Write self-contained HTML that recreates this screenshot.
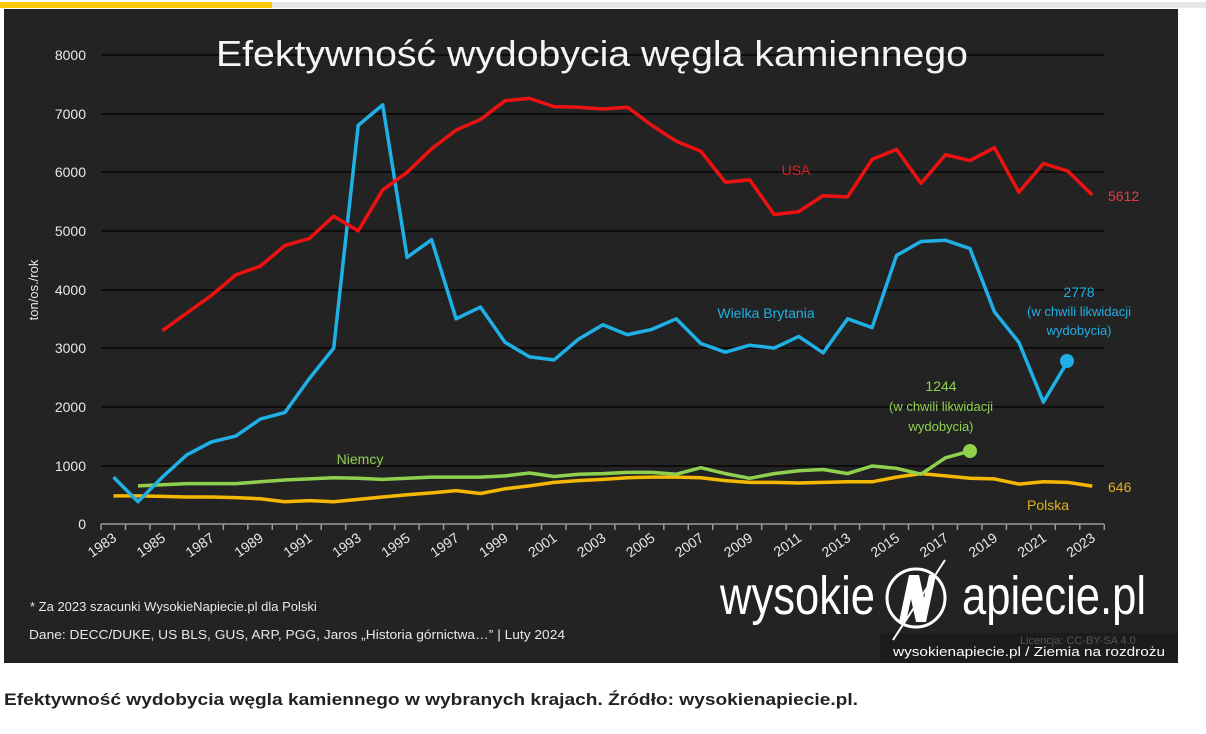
<!DOCTYPE html>
<html><head><meta charset="utf-8"><style>
html,body{margin:0;padding:0;background:#fff;width:1206px;height:734px;overflow:hidden}
svg{display:block}
</style></head><body>
<svg width="1206" height="734" xmlns="http://www.w3.org/2000/svg" font-family="Liberation Sans, DejaVu Sans, sans-serif">
<rect x="0" y="0" width="1206" height="734" fill="#fff"/>
<rect x="0" y="2" width="1206" height="6" fill="#e6e6e6"/>
<rect x="0" y="2" width="272" height="6" fill="#f9c800"/>
<rect x="4" y="9" width="1174" height="654" fill="#232323"/>
<rect x="880" y="633" width="298" height="30" fill="#1c1c1c"/>
<!-- gridlines -->
<g stroke="#0d0d0d" stroke-width="2">
<line x1="101" x2="1104" y1="55" y2="55"/><line x1="101" x2="1104" y1="114" y2="114"/>
<line x1="101" x2="1104" y1="172" y2="172"/><line x1="101" x2="1104" y1="231" y2="231"/>
<line x1="101" x2="1104" y1="290" y2="290"/><line x1="101" x2="1104" y1="348" y2="348"/>
<line x1="101" x2="1104" y1="407" y2="407"/><line x1="101" x2="1104" y1="466" y2="466"/>
</g>
<line x1="101" x2="1104" y1="524" y2="524" stroke="#999" stroke-width="1.5"/>
<g id="ticks" stroke="#999" stroke-width="1.5"></g>
<g fill="#e8e8e8" font-size="14" text-anchor="end">
<text x="86" y="60">8000</text><text x="86" y="119">7000</text><text x="86" y="177">6000</text>
<text x="86" y="236">5000</text><text x="86" y="295">4000</text><text x="86" y="353">3000</text>
<text x="86" y="412">2000</text><text x="86" y="471">1000</text><text x="86" y="529">0</text>
</g>
<text transform="translate(38,290) rotate(-90)" fill="#e8e8e8" font-size="13" text-anchor="middle">ton/os./rok</text>
<g id="xl" fill="#e8e8e8" font-size="14" text-anchor="end"></g>
<text x="592" y="66" fill="#f4f4f4" font-size="36" text-anchor="middle" textLength="752" lengthAdjust="spacingAndGlyphs">Efektywność wydobycia węgla kamiennego</text>
<g id="lines" fill="none" stroke-width="3.5" stroke-linejoin="round"></g>
<circle cx="1067" cy="361" r="7" fill="#1fb0e6"/>
<circle cx="970" cy="451" r="7" fill="#8fd14f"/>
<g font-size="14">
<text x="796" y="175" fill="#e02020" text-anchor="middle">USA</text>
<text x="1108" y="201" fill="#e04040">5612</text>
<text x="766" y="318" fill="#1fb0e6" text-anchor="middle">Wielka Brytania</text>
<text x="1079" y="297" fill="#1fb0e6" text-anchor="middle">2778</text>
<text x="1079" y="316" fill="#1fb0e6" text-anchor="middle" font-size="13">(w chwili likwidacji</text>
<text x="1079" y="335" fill="#1fb0e6" text-anchor="middle" font-size="13">wydobycia)</text>
<text x="941" y="391" fill="#8fd14f" text-anchor="middle">1244</text>
<text x="941" y="411" fill="#8fd14f" text-anchor="middle" font-size="13">(w chwili likwidacji</text>
<text x="941" y="431" fill="#8fd14f" text-anchor="middle" font-size="13">wydobycia)</text>
<text x="360" y="464" fill="#8fd14f" text-anchor="middle">Niemcy</text>
<text x="1108" y="492" fill="#e0b020">646</text>
<text x="1048" y="510" fill="#e0b020" text-anchor="middle">Polska</text>
</g>
<text x="30" y="611" fill="#e8e8e8" font-size="13">* Za 2023 szacunki WysokieNapiecie.pl dla Polski</text>
<text x="29" y="639" fill="#e8e8e8" font-size="13" textLength="536" lengthAdjust="spacingAndGlyphs">Dane: DECC/DUKE, US BLS, GUS, ARP, PGG, Jaros „Historia górnictwa…”  |  Luty 2024</text>
<!-- logo -->
<text x="720" y="614" fill="#fff" font-size="54" textLength="155" lengthAdjust="spacingAndGlyphs">wysokie</text>
<circle cx="916" cy="598" r="29" fill="none" stroke="#fff" stroke-width="3"/>
<polygon points="899,622 909,575 919,575 924,598 929,575 936,575 926,622 916,622 911,599 906,622" fill="#fff"/>
<line x1="945" y1="560" x2="893" y2="640" stroke="#fff" stroke-width="2"/>
<text x="962" y="614" fill="#fff" font-size="54" textLength="184" lengthAdjust="spacingAndGlyphs">apiecie.pl</text>
<text x="1020" y="644" fill="#555" font-size="11">Licencja: CC-BY-SA 4.0</text>
<text x="893" y="656" fill="#fff" font-size="13" textLength="272" lengthAdjust="spacingAndGlyphs">wysokienapiecie.pl / Ziemia na rozdrożu</text>
<text x="4" y="705" fill="#222" font-size="17" font-weight="bold" textLength="854" lengthAdjust="spacingAndGlyphs">Efektywność wydobycia węgla kamiennego w wybranych krajach. Źródło: wysokienapiecie.pl.</text>
</svg>
<script>
var NS="http://www.w3.org/2000/svg";
function X(y){return 113.5+(y-1983)*24.47;}
function Y(v){return 524-v*0.05862;}
var t=document.getElementById('ticks'),xl=document.getElementById('xl');
for(var i=0;i<=41;i++){var x=101+i*24.47;var l=document.createElementNS(NS,'line');l.setAttribute('x1',x);l.setAttribute('x2',x);l.setAttribute('y1',524);l.setAttribute('y2',530);t.appendChild(l);}
for(var y=1983;y<=2023;y+=2){var tx=document.createElementNS(NS,'text');var x=X(y)+4;tx.setAttribute('transform','translate('+x+',540) rotate(-35)');tx.textContent=y;xl.appendChild(tx);}
function line(start,data,col){var p=[];for(var i=0;i<data.length;i++)p.push(X(start+i).toFixed(1)+','+Y(data[i]).toFixed(1));var pl=document.createElementNS(NS,'polyline');pl.setAttribute('points',p.join(' '));pl.setAttribute('stroke',col);document.getElementById('lines').appendChild(pl);}
line(1983,[480,480,470,460,460,450,430,380,400,380,420,460,500,530,570,520,600,650,710,740,760,790,800,800,790,740,710,710,700,710,720,720,800,860,820,780,770,680,720,710,646],'#f5b800');
line(1984,[650,670,690,690,690,720,750,770,790,780,760,780,800,800,800,820,870,810,850,860,880,880,850,960,860,780,860,910,930,860,990,950,850,1130,1244],'#8fd14f');
line(1983,[800,380,800,1180,1400,1500,1790,1900,2480,3000,6800,7150,4550,4850,3500,3700,3100,2850,2800,3150,3400,3230,3320,3500,3080,2930,3050,3000,3200,2920,3500,3350,4580,4820,4840,4700,3620,3100,2080,2778],'#1fb0e6');
line(1985,[3300,3600,3900,4250,4400,4750,4870,5250,5000,5700,6000,6400,6720,6900,7220,7260,7120,7110,7080,7110,6800,6530,6360,5830,5870,5280,5330,5600,5580,6220,6390,5810,6300,6200,6420,5660,6150,6020,5612],'#ee1111');
</script>
</body></html>
